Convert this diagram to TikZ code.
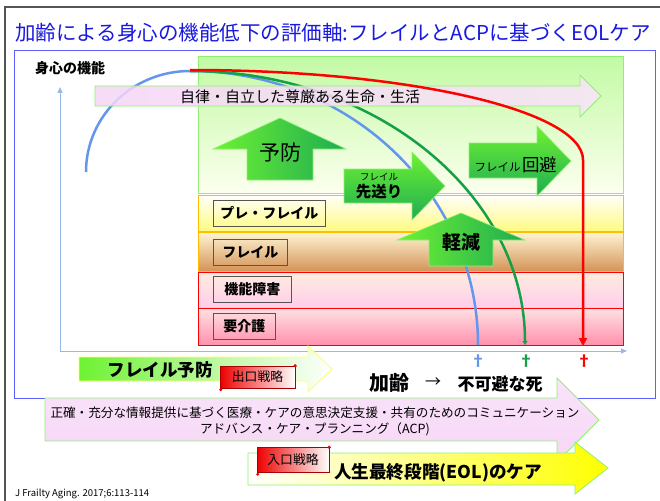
\documentclass[tikz,border=0pt]{standalone}
\usepackage{fontspec}
\setmainfont{Noto Sans CJK JP}
\usetikzlibrary{arrows.meta}
\newcommand{\myfs}[1]{\fontsize{#1}{#1}\selectfont}
\definecolor{titleblue}{RGB}{25,25,225}
\definecolor{frameblue}{RGB}{95,95,255}
\definecolor{axisblue}{RGB}{150,185,230}
\definecolor{curveblue}{RGB}{100,150,235}
\definecolor{curvegreen}{RGB}{20,160,70}
\definecolor{curvered}{RGB}{255,0,0}
\definecolor{lgborder}{RGB}{145,240,115}
\definecolor{areatop}{RGB}{195,250,165}
\definecolor{areabot}{RGB}{252,255,238}
\definecolor{bandorange}{RGB}{255,190,0}
\definecolor{preTop}{RGB}{255,255,250}
\definecolor{preBot}{RGB}{255,250,130}
\definecolor{frTop}{RGB}{255,245,212}
\definecolor{frBot}{RGB}{212,148,88}
\definecolor{kiTop}{RGB}{255,236,222}
\definecolor{kiBot}{RGB}{255,205,235}
\definecolor{yoTop}{RGB}{255,225,228}
\definecolor{yoBot}{RGB}{255,145,172}
\definecolor{gbright}{RGB}{110,242,50}
\definecolor{gdark}{RGB}{30,172,82}
\definecolor{pinkA}{RGB}{250,228,250}
\definecolor{pinkB}{RGB}{246,214,246}
\definecolor{tagred}{RGB}{238,0,0}
\definecolor{yellowhead}{RGB}{255,255,0}
\definecolor{yborder}{RGB}{255,255,110}
\definecolor{outergray}{RGB}{85,85,85}
\tikzset{
  band/.style={line width=1pt},
  lblbox/.style={draw=outergray, line width=0.8pt, minimum height=26pt, inner sep=1pt, font=\myfs{14}\bfseries, anchor=west},
  curve/.style={line width=2.5pt},
  garrow/.style={draw=lgborder, line width=0.6pt},
  tagbox/.style={draw=tagred!70!black, line width=0.4pt, left color=tagred, right color=white, minimum height=22pt, inner sep=1pt, font=\myfs{12.8}},
  plain/.style={inner sep=0pt},
  dag/.style={inner sep=0pt, font=\myfs{15}\bfseries}
}
\begin{document}
\begin{tikzpicture}[x=1pt,y=-1pt]
\useasboundingbox (0,0) rectangle (660,500);
\fill[white] (0,0) rectangle (660,500);
% outer slide frame
\draw[outergray, line width=2pt] (662,7) -- (5,7) -- (5,505);
% title
\node[plain, text=titleblue] (title) at (333,33) {\myfs{20.5}加齢による身心の機能低下の評価軸:フレイルとACPに基づくEOLケア};
% main blue frame
\draw[frameblue, line width=1pt] (14,51) rectangle (655,398);
\node[plain] (ylabel) at (70,68) {\myfs{14}\bfseries 身心の機能};
% area and bands
\draw[draw=lgborder, line width=1pt, top color=areatop, bottom color=areabot] (198,57) rectangle (623,193);
\draw[draw=bandorange, band, top color=preTop, bottom color=preBot] (198,195) rectangle (623,231);
\draw[draw=bandorange, band, top color=frTop, bottom color=frBot] (198,232) rectangle (623,271);
\draw[draw=red, band, top color=kiTop, bottom color=kiBot] (198,272) rectangle (623,308);
\draw[draw=red, band, top color=yoTop, bottom color=yoBot] (198,308) rectangle (623,345);
% label boxes
\node[lblbox, minimum width=112pt] (pre) at (213,213) {プレ・フレイル};
\node[lblbox, minimum width=74pt] (fr) at (213,252) {フレイル};
\node[lblbox, minimum width=78pt] (ki) at (213,289) {機能障害};
\node[lblbox, minimum width=62pt] (yo) at (213,326) {要介護};
% axes
\coordinate (origin) at (60,351);
\coordinate (ytop) at (60,87);
\coordinate (xend) at (627,351);
\draw[axisblue, line width=1pt, -{Triangle[length=6pt,width=5pt]}] (origin) -- (ytop);
\draw[axisblue, line width=1pt, -{Triangle[length=6pt,width=5pt]}] (origin) -- (xend);
% blue curve
\draw[curveblue, curve] (86,172) arc[start angle=180, end angle=270, x radius=104, y radius=101]
  arc[start angle=-90, end angle=0, x radius=288, y radius=274];
% green curve
\draw[curvegreen, curve, -{Triangle[length=4pt,width=5pt]}] (190,71) arc[start angle=-90, end angle=0, x radius=335, y radius=274];
% green block arrows
\draw[garrow, left color=gbright, right color=gdark]
  (247,180) -- (247,149) -- (213,149) -- (280,118) -- (346,149) -- (313,149) -- (313,180) -- cycle;
\node[plain] (yobo) at (280,153) {\myfs{21}予防};
\draw[garrow, top color=gbright, bottom color=gdark]
  (344,169) -- (412,169) -- (412,152) -- (445,186) -- (412,220) -- (412,203) -- (344,203) -- cycle;
\node[plain] (fr1) at (379,177) {\myfs{9.5}フレイル};
\node[plain] (saki) at (379,192) {\myfs{15.5}\bfseries 先送り};
\draw[garrow, top color=gbright, bottom color=gdark]
  (469,143) -- (537,143) -- (537,126) -- (571,161) -- (537,196) -- (537,178) -- (469,178) -- cycle;
\node[plain] (kaihi) at (516,165) {\myfs{11.5}フレイル\,\myfs{17.5}回避};
\draw[garrow, left color=gbright, right color=gdark]
  (429,266) -- (429,240) -- (397,240) -- (461,213) -- (525,240) -- (493,240) -- (493,266) -- cycle;
\node[plain] (keigen) at (461,242) {\myfs{19}\bfseries 軽減};
% pink arrow
\draw[draw=lgborder, line width=0.8pt, fill opacity=0.85, left color=pinkB, right color=pinkA]
  (95,86) -- (580,86) -- (580,75) -- (601,96) -- (580,117) -- (580,106) -- (95,106) -- cycle;
\node[plain] (jiritsu) at (300,97) {\myfs{15}自律・自立した尊厳ある生命・生活};
% red curve
\draw[curvered, curve, -{Triangle[length=8pt,width=8pt]}] (190,70) arc[start angle=-90, end angle=0, x radius=393, y radius=90] -- (583,346);
% daggers
\node[dag, text=curveblue] (d1) at (478,361) {†};
\node[dag, text=curvegreen] (d2) at (526,361) {†};
\node[dag, text=curvered] (d3) at (584,361) {†};
% frailty prevention arrow
\draw[draw=yborder, line width=0.8pt, left color=gbright, right color=white]
  (79,357) -- (308,357) -- (308,346) -- (332,369) -- (308,392) -- (308,381) -- (79,381) -- cycle;
\node[plain] (frprev) at (160,370) {\myfs{17.5}\bfseries フレイル予防};
\node[tagbox, minimum width=75pt] (exit) at (257.5,377) {出口戦略};
\fill[tagred] (exit.north east) circle (1.8pt);
\fill[tagred] (exit.south west) ++(1,1.5) circle (1.6pt);
% aging to death
\node[plain] (karei) at (389,383) {\myfs{20}\bfseries 加齢};
\node[plain] (arr) at (433,383) {\myfs{16}→};
\node[plain] (shi) at (500,384) {\myfs{17}\bfseries 不可避な死};
% ACP arrow
\draw[draw=lgborder, line width=0.8pt, top color=pinkA, bottom color=pinkB]
  (45,398) -- (557,398) -- (557,378) -- (599,420) -- (557,462) -- (557,441) -- (45,441) -- cycle;
\node[plain] (acp1) at (315,413) {\myfs{12.6}正確・充分な情報提供に基づく医療・ケアの意思決定支援・共有のためのコミュニケーション};
\node[plain] (acp2) at (315,429) {\myfs{12.6}アドバンス・ケア・プランニング（ACP)};
% EOL arrow
\draw[draw=lgborder, line width=0.8pt, left color=white, right color=yellowhead]
  (248,453) -- (575,453) -- (575,442) -- (608,468) -- (575,494) -- (575,485) -- (248,485) -- cycle;
\node[plain] (eol) at (438,473) {\myfs{17.6}\bfseries 人生最終段階(EOL)のケア};
\node[tagbox, minimum width=72pt, minimum height=25pt] (entry) at (293,460) {入口戦略};
\fill[tagred] (entry.north east) circle (1.8pt);
\fill[tagred] (entry.south west) ++(1,1.5) circle (1.6pt);
% reference
\node[plain, anchor=west] (ref) at (15,494) {\myfs{9.5}J Frailty Aging. 2017;6:113-114};
\end{tikzpicture}
\end{document}
